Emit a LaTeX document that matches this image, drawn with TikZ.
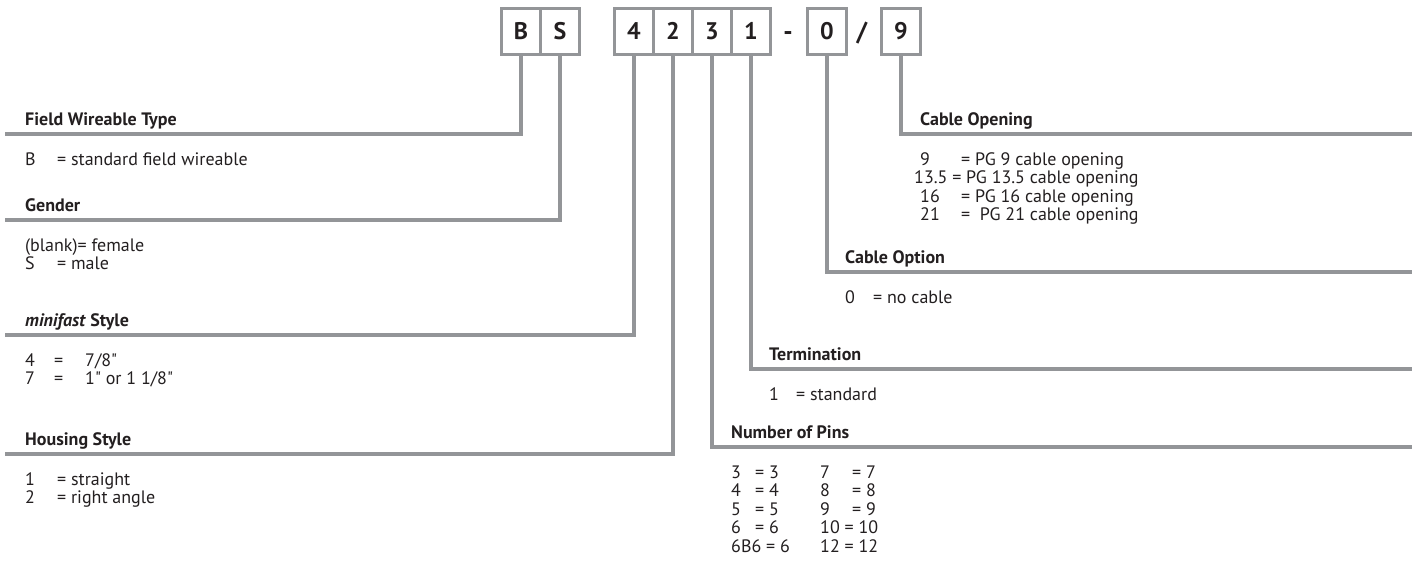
\documentclass[tikz,border=0pt]{standalone}
\usepackage{fontspec}
\setmainfont{PT Sans}
\usetikzlibrary{positioning}
\definecolor{leadgray}{HTML}{939598}
\definecolor{inkdark}{HTML}{231F20}

\begin{document}
\begin{tikzpicture}[x=1pt,y=-1pt,
  digit/.style={draw=leadgray,line width=3pt,minimum width=39pt,minimum height=46pt,inner sep=0pt,
    font=\fontsize{24}{24}\selectfont\bfseries,text=inkdark},
  sepchar/.style={anchor=base,inner sep=0pt,font=\fontsize{26}{26}\selectfont\bfseries,text=inkdark},
  lead/.style={draw=leadgray,line width=3.5pt},
  head/.style={anchor=base west,inner sep=0pt,font=\fontsize{18}{18}\selectfont\bfseries,text=inkdark},
  body/.style={anchor=base west,inner sep=0pt,font=\fontsize{18}{18}\selectfont,text=inkdark}]
\useasboundingbox (0,0) rectangle (1412,573);

% code boxes
\node[digit] (bB) at (521,31) {B};
\node[digit] (bS) at (560,31) {S};
\node[digit] (b4) at (634,31) {4};
\node[digit] (b2) at (673,31) {2};
\node[digit] (b3) at (712,31) {3};
\node[digit] (b1) at (751,31) {1};
\node[sepchar] (dash) at (788,40) {-};
\node[digit] (b0) at (827,31) {0};
\node[sepchar] (slash) at (862,40) {/};
\node[digit] (b9) at (901,31) {9};

% line ends
\coordinate (fwtEnd) at (5,134);
\coordinate (genEnd) at (5,220);
\coordinate (mfEnd) at (5,335);
\coordinate (hsEnd) at (5,454);
\coordinate (coEnd) at (1412,134);
\coordinate (copEnd) at (1412,272);
\coordinate (termEnd) at (1412,369);
\coordinate (pinEnd) at (1412,447);

\draw[lead] (bB.south) |- (fwtEnd);
\draw[lead] (bS.south) |- (genEnd);
\draw[lead] (b4.south) |- (mfEnd);
\draw[lead] (b2.south) |- (hsEnd);
\draw[lead] (b9.south) |- (coEnd);
\draw[lead] (b0.south) |- (copEnd);
\draw[lead] (b1.south) |- (termEnd);
\draw[lead] (b3.south) |- (pinEnd);

% left side
\node[head] (fwtHead) at (25,125) {Field Wireable Type};
\node[body] (fwtB) at (25,165) {\makebox[32pt][l]{B}= standard field wireable};

\node[head] (genHead) at (25,211) {Gender};
\node[body] (genF) at (25,251) {(blank)= female};
\node[body] (genM) at (25,269.5) {\makebox[32pt][l]{S}= male};

\node[head] (mfHead) at (25,326) {\itshape minifast\/\upshape\ Style};
\node[body] (mf4) at (25,366) {\makebox[29pt][l]{4}\makebox[31pt][l]{=}7/8\textquotedbl};
\node[body] (mf7) at (25,384.5) {\makebox[29pt][l]{7}\makebox[31pt][l]{=}1\textquotedbl{} or 1 1/8\textquotedbl};

\node[head] (hsHead) at (25,445) {Housing Style};
\node[body] (hs1) at (25,485) {\makebox[32pt][l]{1}= straight};
\node[body] (hs2) at (25,503.5) {\makebox[32pt][l]{2}= right angle};

% right side
\node[head] (coHead) at (920,125) {Cable Opening};
\node[body] (co9) at (920,165) {\makebox[41pt][l]{9}= PG 9 cable opening};
\node[body] (co13) at (914,183.5) {13.5 = PG 13.5 cable opening};
\node[body] (co16) at (920,202) {\makebox[41pt][l]{16}= PG 16 cable opening};
\node[body] (co21) at (920,220.5) {\makebox[41pt][l]{21}= \ PG 21 cable opening};

\node[head] (copHead) at (845,263) {Cable Option};
\node[body] (cop0) at (845,303) {\makebox[28pt][l]{0}= no cable};

\node[head] (termHead) at (769,360) {Termination};
\node[body] (term1) at (769,400) {\makebox[27pt][l]{1}= standard};

\node[head] (pinHead) at (731,438) {Number of Pins};
\node[body] (pin3) at (731,478) {\makebox[24pt][l]{3}= 3};
\node[body] (pin4) at (731,496.5) {\makebox[24pt][l]{4}= 4};
\node[body] (pin5) at (731,515) {\makebox[24pt][l]{5}= 5};
\node[body] (pin6) at (731,533.5) {\makebox[24pt][l]{6}= 6};
\node[body] (pin6b) at (731,552) {6B6 = 6};
\node[body] (pin7) at (820,478) {\makebox[32pt][l]{7}= 7};
\node[body] (pin8) at (820,496.5) {\makebox[32pt][l]{8}= 8};
\node[body] (pin9) at (820,515) {\makebox[32pt][l]{9}= 9};
\node[body] (pin10) at (820,533.5) {10 = 10};
\node[body] (pin12) at (820,552) {12 = 12};
\end{tikzpicture}
\end{document}
